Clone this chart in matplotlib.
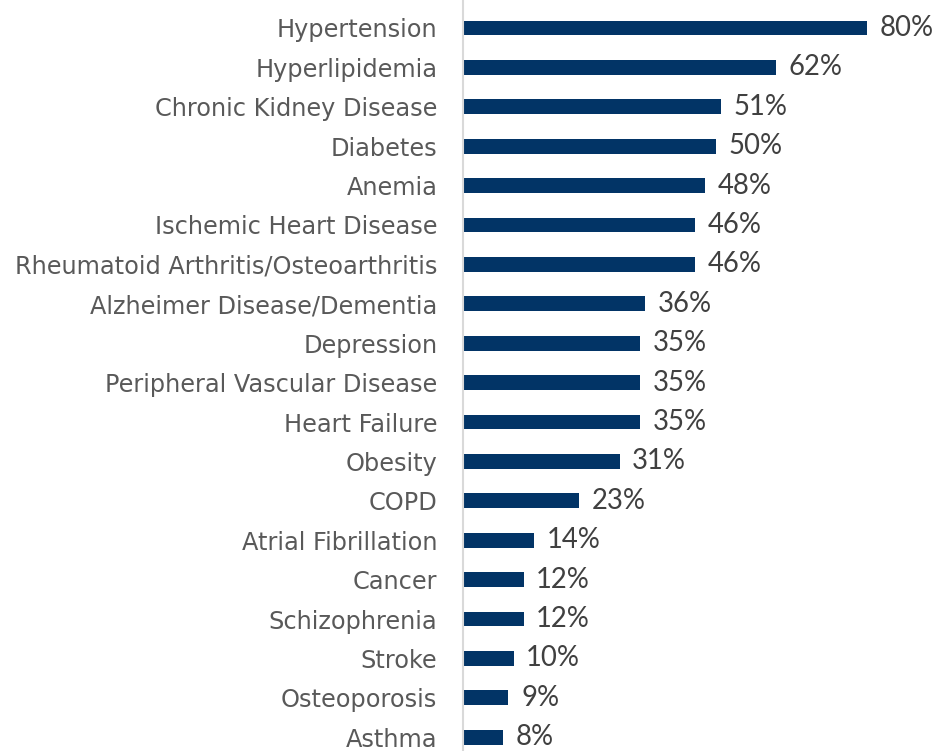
import matplotlib
matplotlib.use("Agg")
import matplotlib.pyplot as plt

categories = ["Hypertension", "Hyperlipidemia", "Chronic Kidney Disease", "Diabetes",
              "Anemia", "Ischemic Heart Disease", "Rheumatoid Arthritis/Osteoarthritis",
              "Alzheimer Disease/Dementia", "Depression", "Peripheral Vascular Disease",
              "Heart Failure", "Obesity", "COPD", "Atrial Fibrillation", "Cancer",
              "Schizophrenia", "Stroke", "Osteoporosis", "Asthma"]
values = [80, 62, 51, 50, 48, 46, 46, 36, 35, 35, 35, 31, 23, 14, 12, 12, 10, 9, 8]
value_labels = [f"{v}%" for v in values]

W, H = 936, 751
fig = plt.figure(figsize=(W / 100, H / 100), dpi=100)
left_px = 463
ax = fig.add_axes([left_px / W, 0, 1 - left_px / W, 1])

pos = list(range(len(categories)))
ax.barh(pos, values, height=0.38, color="#023466")
scale = 5.05
ax.set_xlim(0, (W - left_px) / scale)
ax.set_ylim((H - 28) / 39.4, -28 / 39.4)

ax.set_yticks(pos)
ax.set_yticklabels(categories, fontsize=17.3, color="#595959", family="DejaVu Sans")
ax.tick_params(axis="y", length=0, pad=18.5)
ax.set_xticks([])
for s in ["top", "right", "bottom"]:
    ax.spines[s].set_visible(False)
ax.spines["left"].set_color("#d9d9d9")
ax.spines["left"].set_linewidth(1.5)

for p, v, lab in zip(pos, values, value_labels):
    ax.text(v + 2.5, p, lab, va="center", ha="left", fontsize=19.8, color="#404040",
            family="Lato")

fig.savefig("out.png", dpi=100)
